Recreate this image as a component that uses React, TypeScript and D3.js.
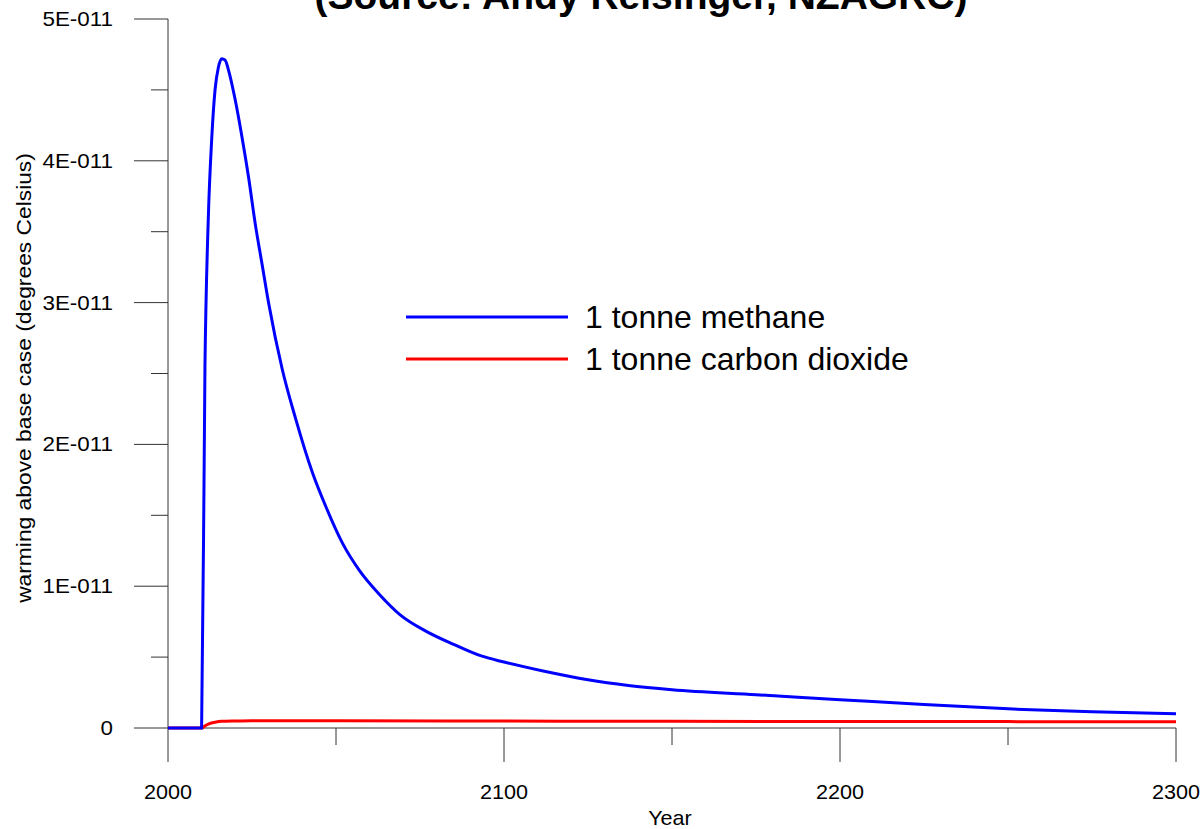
import * as d3 from "d3";

const W = 1204;
const H = 829;
const X0 = 168;
const X1 = 1176;
const Y0 = 728;
const Y1 = 19;

const FONT = "'Liberation Sans', Arial, sans-serif";

const methaneYears = [
  2000, 2010, 2011, 2012, 2013, 2014, 2015, 2016, 2017, 2018, 2020, 2022, 2024,
  2026, 2028, 2030, 2034, 2038, 2043, 2047, 2052, 2057, 2063, 2069, 2077, 2085,
  2093, 2100, 2112, 2125, 2137, 2150, 2175, 2200, 2225, 2250, 2275, 2300,
];
const methaneValues = [
  0, 0, 2.55e-11, 3.6e-11, 4.15e-11, 4.5e-11, 4.66e-11, 4.72e-11, 4.71e-11,
  4.64e-11, 4.43e-11, 4.17e-11, 3.88e-11, 3.55e-11, 3.27e-11, 2.99e-11,
  2.53e-11, 2.18e-11, 1.8e-11, 1.56e-11, 1.3e-11, 1.11e-11, 0.94e-11, 0.8e-11,
  0.68e-11, 0.59e-11, 0.51e-11, 0.465e-11, 0.4e-11, 0.34e-11, 0.3e-11,
  0.27e-11, 0.235e-11, 0.2e-11, 0.165e-11, 0.135e-11, 0.115e-11, 0.1e-11,
];

const co2Years = [
  2000, 2010, 2011, 2012, 2014, 2016, 2020, 2025, 2035, 2050, 2100, 2150, 2200,
  2250, 2300,
];
const co2Values = [
  0, 0, 0.015e-11, 0.028e-11, 0.04e-11, 0.047e-11, 0.05e-11, 0.052e-11,
  0.052e-11, 0.051e-11, 0.049e-11, 0.047e-11, 0.046e-11, 0.045e-11, 0.044e-11,
];

const yMajor = [0, 1e-11, 2e-11, 3e-11, 4e-11, 5e-11];
const yLabels = ["0", "1E-011", "2E-011", "3E-011", "4E-011", "5E-011"];
const yMinor = [0.5e-11, 1.5e-11, 2.5e-11, 3.5e-11, 4.5e-11];
const xMajor = [2000, 2100, 2200, 2300];
const xMinor = [2050, 2150, 2250];

const seriesNames = ["1 tonne methane", "1 tonne carbon dioxide"];
const seriesColors = ["#0000ff", "#ff0000"];

const title = "(Source: Andy Reisinger, NZAGRC)";

const App = () => {
  const x = d3.scaleLinear().domain([2000, 2300]).range([X0, X1]);
  const y = d3.scaleLinear().domain([0, 5e-11]).range([Y0, Y1]);

  const line = d3
    .line<[number, number]>()
    .x((d) => x(d[0]))
    .y((d) => y(d[1]))
    .curve(d3.curveMonotoneX);

  const series = [
    methaneYears.map((yr, i) => [yr, methaneValues[i]] as [number, number]),
    co2Years.map((yr, i) => [yr, co2Values[i]] as [number, number]),
  ];

  const axisColor = "#333";

  return (
    <svg
      width={W}
      height={H}
      style={{ position: "absolute", left: 0, top: 0, background: "#fff" }}
      fontFamily={FONT}
    >
      {/* title, cut off at the top as in the source */}
      <text
        x={641}
        y={9}
        textAnchor="middle"
        fontSize={39}
        fontWeight="bold"
        fill="#000"
      >
        {title}
      </text>

      {/* y axis */}
      <line x1={X0} x2={X0} y1={y(5e-11)} y2={Y0} stroke={axisColor} />
      {yMajor.map((v, i) => (
        <g key={"ym" + i}>
          <line x1={X0 - 34} x2={X0} y1={y(v)} y2={y(v)} stroke={axisColor} />
          <text
            transform={`translate(${X0 - 55},${y(v) + 7}) scale(1.12,1)`}
            textAnchor="end"
            fontSize={20}
            fill="#000"
          >
            {yLabels[i]}
          </text>
        </g>
      ))}
      {yMinor.map((v, i) => (
        <line key={"yn" + i} x1={X0 - 17} x2={X0} y1={y(v)} y2={y(v)} stroke={axisColor} />
      ))}

      {/* x axis */}
      <line x1={X0} x2={X1} y1={Y0} y2={Y0} stroke={axisColor} />
      {xMajor.map((v) => (
        <g key={"xm" + v}>
          <line x1={x(v)} x2={x(v)} y1={Y0} y2={Y0 + 34} stroke={axisColor} />
          <text
            transform={`translate(${x(v)},${799}) scale(1.08,1)`}
            textAnchor="middle"
            fontSize={20}
            fill="#000"
          >
            {v}
          </text>
        </g>
      ))}
      {xMinor.map((v) => (
        <line key={"xn" + v} x1={x(v)} x2={x(v)} y1={Y0} y2={Y0 + 17} stroke={axisColor} />
      ))}

      <text
        transform={`translate(670,825) scale(1.08,1)`}
        textAnchor="middle"
        fontSize={20}
        fill="#000"
      >
        Year
      </text>
      <text
        transform={`translate(31,378) rotate(-90) scale(1.14,1)`}
        textAnchor="middle"
        fontSize={20}
        fill="#000"
      >
        warming above base case (degrees Celsius)
      </text>

      {/* curves: carbon dioxide under methane */}
      <path d={line(series[1]) || ""} fill="none" stroke={seriesColors[1]} strokeWidth={3} />
      <path d={line(series[0]) || ""} fill="none" stroke={seriesColors[0]} strokeWidth={3} />

      {/* legend */}
      {seriesNames.map((name, i) => (
        <g key={name} transform={`translate(406,${317 + i * 42})`}>
          <line x1={0} x2={162} y1={0} y2={0} stroke={seriesColors[i]} strokeWidth={3} />
          <text x={179} y={11} fontSize={32} fill="#000">
            {name}
          </text>
        </g>
      ))}
    </svg>
  );
};

export default App;
